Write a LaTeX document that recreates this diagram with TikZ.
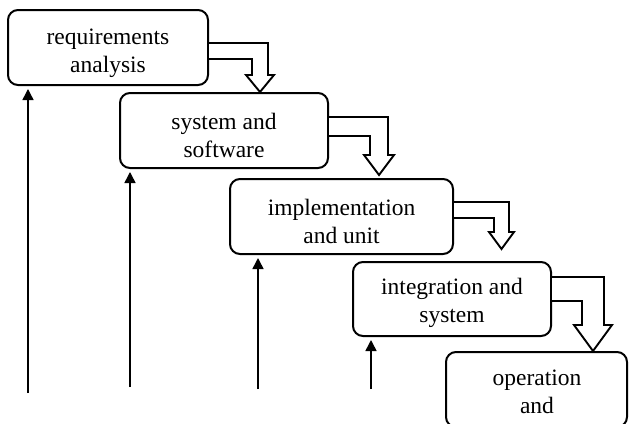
\documentclass[tikz,border=0pt]{standalone}
\usepackage{fontspec}
\setmainfont{Liberation Serif}
\usetikzlibrary{arrows.meta,calc}

\tikzset{
  stage/.style={draw, line width=2pt, rounded corners=10pt, minimum height=75pt, inner sep=0pt},
  stagetext/.style={align=center, anchor=base, inner sep=0pt,
    font=\fontsize{23.5}{28}\selectfont},
  flow/.style={draw, line width=1.9pt, line join=miter, fill=white},
  feedback/.style={draw, line width=1.5pt, -{Triangle[length=11pt,width=11pt]}, shorten >=3pt}
}

\begin{document}
\begin{tikzpicture}[x=1pt, y=-1pt]
\useasboundingbox (0,0) rectangle (629,423);
\clip (0,0) rectangle (629,423);

% phase boxes
\node[stage, minimum width=200pt] (b1) at (108,47.5) {};
\node[stage, minimum width=208pt] (b2) at (224,130.5) {};
\node[stage, minimum width=223pt] (b3) at (341.5,216.5) {};
\node[stage, minimum width=198pt, minimum height=74pt] (b4) at (452,299) {};
\node[stage, minimum width=181pt] (b5) at (536.5,389.5) {};

% phase labels (anchored at the baseline of the last line)
\node[stagetext] (t1) at (108,72) {requirements\\analysis};
\node[stagetext] (t2) at (224,157) {system and\\software};
\node[stagetext] (t3) at (341.5,243) {implementation\\and unit};
\node[stagetext] (t4) at (452,322) {integration and\\system};
\node[stagetext] (t5) at (537,413) {operation\\and};

% hollow flow arrows between phases
\path[flow] (b1.east |- 0,43) -- (268,43) -- (268,75) -- (274,75) -- (260,92)
  -- (246,75) -- (252,75) -- (252,59) -- (b1.east |- 0,59);
\path[flow] (b2.east |- 0,117) -- (388,117) -- (388,155) -- (394,155) -- (379,175)
  -- (364,155) -- (370,155) -- (370,136) -- (b2.east |- 0,136);
\path[flow] (b3.east |- 0,202) -- (509,202) -- (509,232) -- (514,232) -- (501.5,249)
  -- (489,232) -- (494,232) -- (494,218) -- (b3.east |- 0,218);
\path[flow] (b4.east |- 0,277) -- (604,277) -- (604,325) -- (612,325) -- (593,351)
  -- (574,325) -- (582,325) -- (582,301) -- (b4.east |- 0,301);

% feedback arrows
\coordinate (f1) at (28,393);
\coordinate (f2) at (130,387);
\coordinate (f3) at (258,389);
\coordinate (f4) at (371,389);
\draw[feedback] (f1) -- (f1 |- b1.south);
\draw[feedback] (f2) -- (f2 |- b2.south);
\draw[feedback] (f3) -- (f3 |- b3.south);
\draw[feedback] (f4) -- (f4 |- b4.south);
\end{tikzpicture}
\end{document}
